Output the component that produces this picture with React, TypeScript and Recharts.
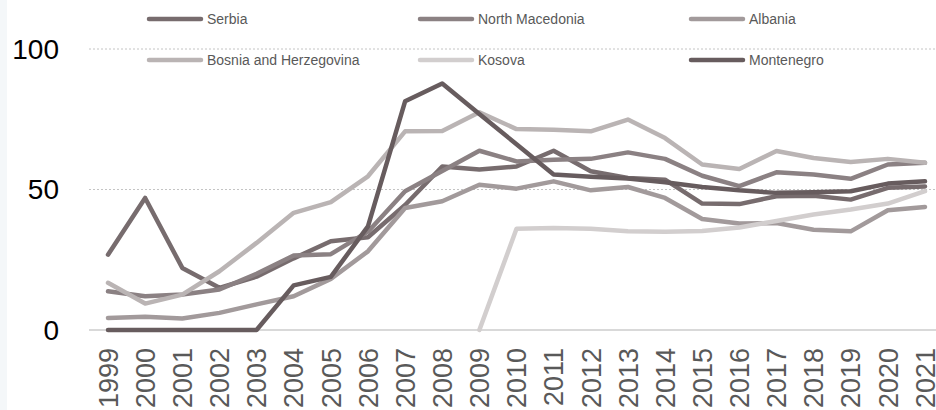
import React from "react";
import { LineChart, Line, XAxis, YAxis, CartesianGrid } from "recharts";

const years = [
  "1999", "2000", "2001", "2002", "2003", "2004", "2005", "2006", "2007", "2008", "2009", "2010",
  "2011", "2012", "2013", "2014", "2015", "2016", "2017", "2018", "2019", "2020", "2021",
];

const serbia = [26.8, 47.0, 22.1, 15.0, 19.0, 25.5, 31.6, 33.0, 44.5, 58.2, 57.1, 58.2, 63.8, 56.5, 54.1, 53.5, 45.0, 44.8, 47.6, 47.8, 46.4, 50.6, 51.1];
const northMacedonia = [13.8, 12.0, 12.6, 14.4, 20.0, 26.5, 27.0, 35.0, 49.4, 56.6, 63.8, 60.0, 60.6, 60.9, 63.2, 60.9, 54.9, 51.2, 56.1, 55.3, 53.8, 58.9, 59.5];
const albania = [4.3, 4.7, 4.1, 6.1, 9.1, 12.0, 18.2, 28.0, 43.4, 45.8, 51.7, 50.3, 52.9, 49.7, 50.9, 47.0, 39.5, 37.9, 38.1, 35.7, 35.1, 42.6, 43.8];
const bosnia = [16.8, 9.4, 12.6, 20.9, 31.0, 41.7, 45.5, 54.7, 70.7, 70.8, 77.5, 71.5, 71.3, 70.7, 74.9, 68.3, 58.9, 57.3, 63.7, 61.2, 59.8, 60.9, 59.5];
const kosova = [null, null, null, null, null, null, null, null, null, null, 0, 36.0, 36.3, 36.0, 35.1, 35.0, 35.2, 36.5, 38.8, 41.1, 42.9, 45.0, 49.4];
const montenegro = [0, 0, 0, 0, 0, 15.9, 18.9, 36.9, 81.4, 87.7, 76.9, 66.1, 55.3, 54.5, 53.9, 52.6, 50.9, 49.7, 48.8, 49.0, 49.4, 52.1, 52.9];

const yTicks = [0, 50, 100];
const dottedGrid = [50, 100];
const baseGrid = [0];

const series = [
  { key: "serbia", name: "Serbia", values: serbia, color: "#776c6e" },
  { key: "northMacedonia", name: "North Macedonia", values: northMacedonia, color: "#8b8183" },
  { key: "albania", name: "Albania", values: albania, color: "#a29a9b" },
  { key: "bosnia", name: "Bosnia and Herzegovina", values: bosnia, color: "#bab4b4" },
  { key: "kosova", name: "Kosova", values: kosova, color: "#d2cece" },
  { key: "montenegro", name: "Montenegro", values: montenegro, color: "#675c5e" },
];

const data = years.map((year, i) => {
  const row: Record<string, string | number | null> = { year };
  series.forEach((s) => {
    row[s.key] = s.values[i];
  });
  return row;
});

const FONT = "'Liberation Sans', Arial, sans-serif";

function YearTick({ x, y, payload }: any) {
  return (
    <g transform={`translate(${x},${y + 10})`}>
      <text
        transform="rotate(-90)"
        textAnchor="end"
        dy="0.36em"
        fontSize={27}
        fontFamily={FONT}
        fill="#595959"
      >
        {payload.value}
      </text>
    </g>
  );
}

function LegendOverlay() {
  const cols = [147, 418, 689];
  const rows = [19, 60];
  return (
    <svg
      width={936}
      height={80}
      style={{ position: "absolute", left: 0, top: 0 }}
    >
      {series.map((s, i) => {
        const x = cols[i % 3];
        const y = rows[Math.floor(i / 3)];
        return (
          <g key={s.key}>
            <line
              x1={x + 2}
              x2={x + 54}
              y1={y}
              y2={y}
              stroke={s.color}
              strokeWidth={4.5}
              strokeLinecap="round"
            />
            <text
              x={x + 60}
              y={y}
              dy="0.35em"
              fontSize={14}
              fontFamily={FONT}
              fill="#595959"
            >
              {s.name}
            </text>
          </g>
        );
      })}
    </svg>
  );
}

export default function App() {
  return (
    <div
      style={{
        position: "fixed",
        left: 0,
        top: 0,
        width: 936,
        height: 410,
        overflow: "hidden",
        background: "#fff",
      }}
    >
      <div
        style={{
          position: "absolute",
          left: 0,
          top: 0,
          width: 7,
          height: 410,
          background: "#f4f7f9",
        }}
      />
      <LineChart
        width={950}
        height={440}
        data={data}
        margin={{ top: 49, right: 6, left: 0, bottom: 0 }}
      >
        <CartesianGrid
          vertical={false}
          horizontalValues={dottedGrid}
          stroke="#c4c4c4"
          strokeDasharray="2 2"
        />
        <CartesianGrid
          vertical={false}
          horizontalValues={baseGrid}
          stroke="#d9d9d9"
          strokeWidth={2}
        />
        <XAxis
          dataKey="year"
          interval={0}
          height={110}
          padding={{ left: 19, right: 19 }}
          axisLine={false}
          tickLine={false}
          tick={<YearTick />}
        />
        <YAxis
          width={89}
          domain={[0, 100]}
          ticks={yTicks}
          axisLine={false}
          tickLine={false}
          tickSize={0}
          tickMargin={30}
          tick={{ fontSize: 28, fill: "#000", fontFamily: FONT }}
        />
        {series.map((s) => (
          <Line
            key={s.key}
            dataKey={s.key}
            name={s.name}
            stroke={s.color}
            strokeWidth={4.5}
            strokeLinecap="round"
            strokeLinejoin="round"
            dot={false}
            activeDot={false}
            type="linear"
            isAnimationActive={false}
          />
        ))}
      </LineChart>
      <LegendOverlay />
    </div>
  );
}
